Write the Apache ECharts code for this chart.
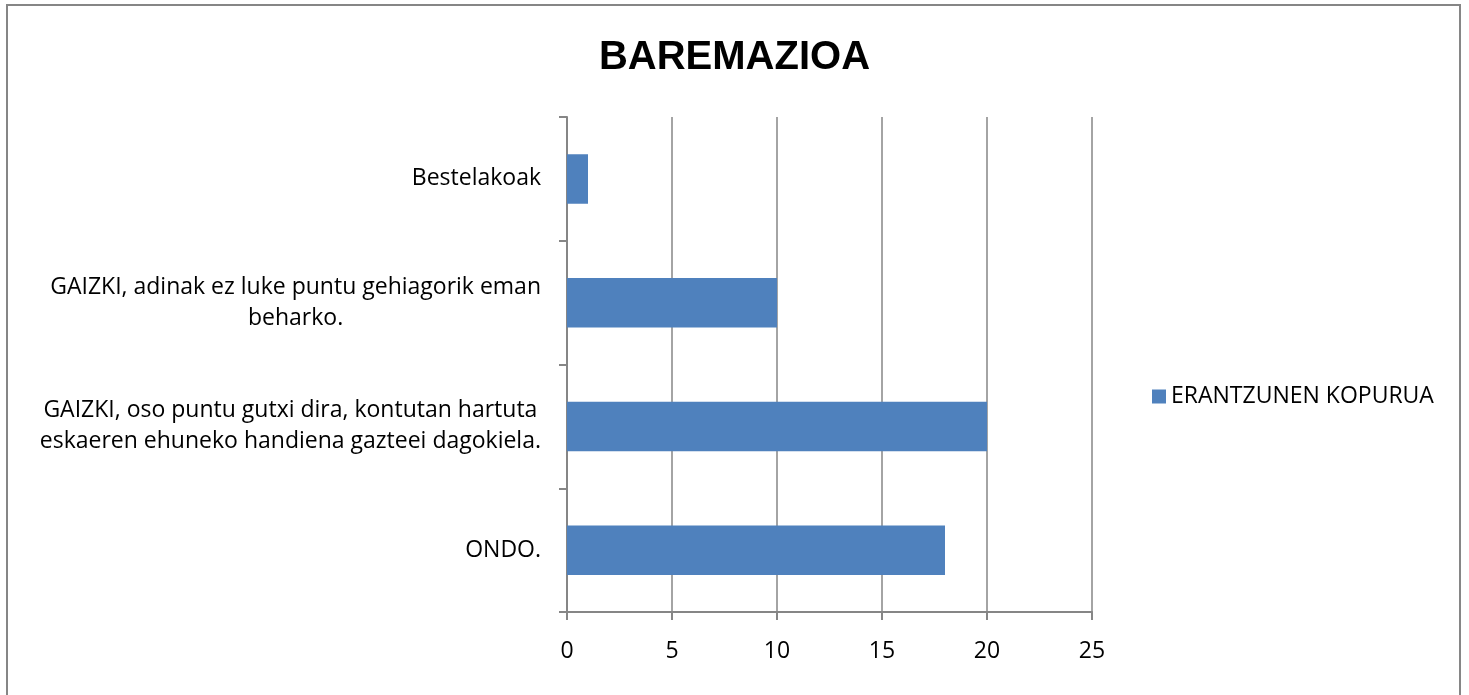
<!DOCTYPE html>
<html>
<head>
<meta charset="utf-8">
<script src="https://cdn.jsdelivr.net/npm/echarts@6/dist/echarts.min.js"></script>
<style>
  html, body { margin: 0; padding: 0; background: #fff; }
  #grafico { width: 1469px; height: 695px; }
</style>
</head>
<body>
<div id="grafico"></div>
<script>
// datuak
const kategoriak = [
  "ONDO.",
  "GAIZKI, oso puntu gutxi dira, kontutan hartuta\neskaeren ehuneko handiena gazteei dagokiela.",
  "GAIZKI, adinak ez luke puntu gehiagorik eman\nbeharko.",
  "Bestelakoak"
];
const balioak = [18, 20, 10, 1];
const serieIzena = "ERANTZUNEN KOPURUA";
const izenburua = "BAREMAZIOA";
const xTikak = [0, 5, 10, 15, 20, 25];

const letra = "Open Sans";
const grisa = "#868686";

const myChart = echarts.init(document.getElementById("grafico"));

myChart.setOption({
  animation: false,
  title: {
    text: izenburua,
    left: "center",
    top: 33,
    textStyle: { fontFamily: "Liberation Sans", fontWeight: "bold", fontSize: 40, color: "#000" }
  },
  legend: {
    data: [serieIzena],
    left: 1147,
    top: 380,
    icon: "rect",
    itemWidth: 14,
    itemHeight: 14,
    itemGap: 8,
    textStyle: { fontFamily: letra, fontSize: 23, color: "#000" }
  },
  grid: { left: 567, right: 377, top: 117, bottom: 83 },
  xAxis: {
    type: "value",
    min: xTikak[0],
    max: xTikak[xTikak.length - 1],
    interval: 5,
    axisLine: { show: true, lineStyle: { color: grisa, width: 2 } },
    axisTick: { show: true, length: 8, lineStyle: { color: grisa, width: 2 } },
    splitLine: { show: true, lineStyle: { color: grisa, width: 1.5 } },
    axisLabel: { margin: 28, fontFamily: letra, fontSize: 23, color: "#000" }
  },
  yAxis: {
    type: "category",
    data: kategoriak,
    axisLine: { show: true, lineStyle: { color: grisa, width: 2 } },
    axisTick: { show: true, length: 8, lineStyle: { color: grisa, width: 2 } },
    axisLabel: {
      margin: 26,
      align: "right",
      formatter: function (v) {
        return v.split("\n").map((l) => "{c|" + l + "}").join("\n");
      },
      rich: {
        c: { align: "center", fontFamily: letra, fontSize: 23, lineHeight: 31, color: "#000" }
      }
    }
  },
  series: [
    {
      name: serieIzena,
      type: "bar",
      data: balioak,
      barCategoryGap: "60%",
      itemStyle: { color: "#4F81BD" }
    }
  ],
  graphic: [
    {
      type: "rect",
      shape: { x: 7, y: 5, width: 1453, height: 720 },
      style: { fill: null, stroke: grisa, lineWidth: 2 },
      silent: true
    }
  ]
});
</script>
</body>
</html>
